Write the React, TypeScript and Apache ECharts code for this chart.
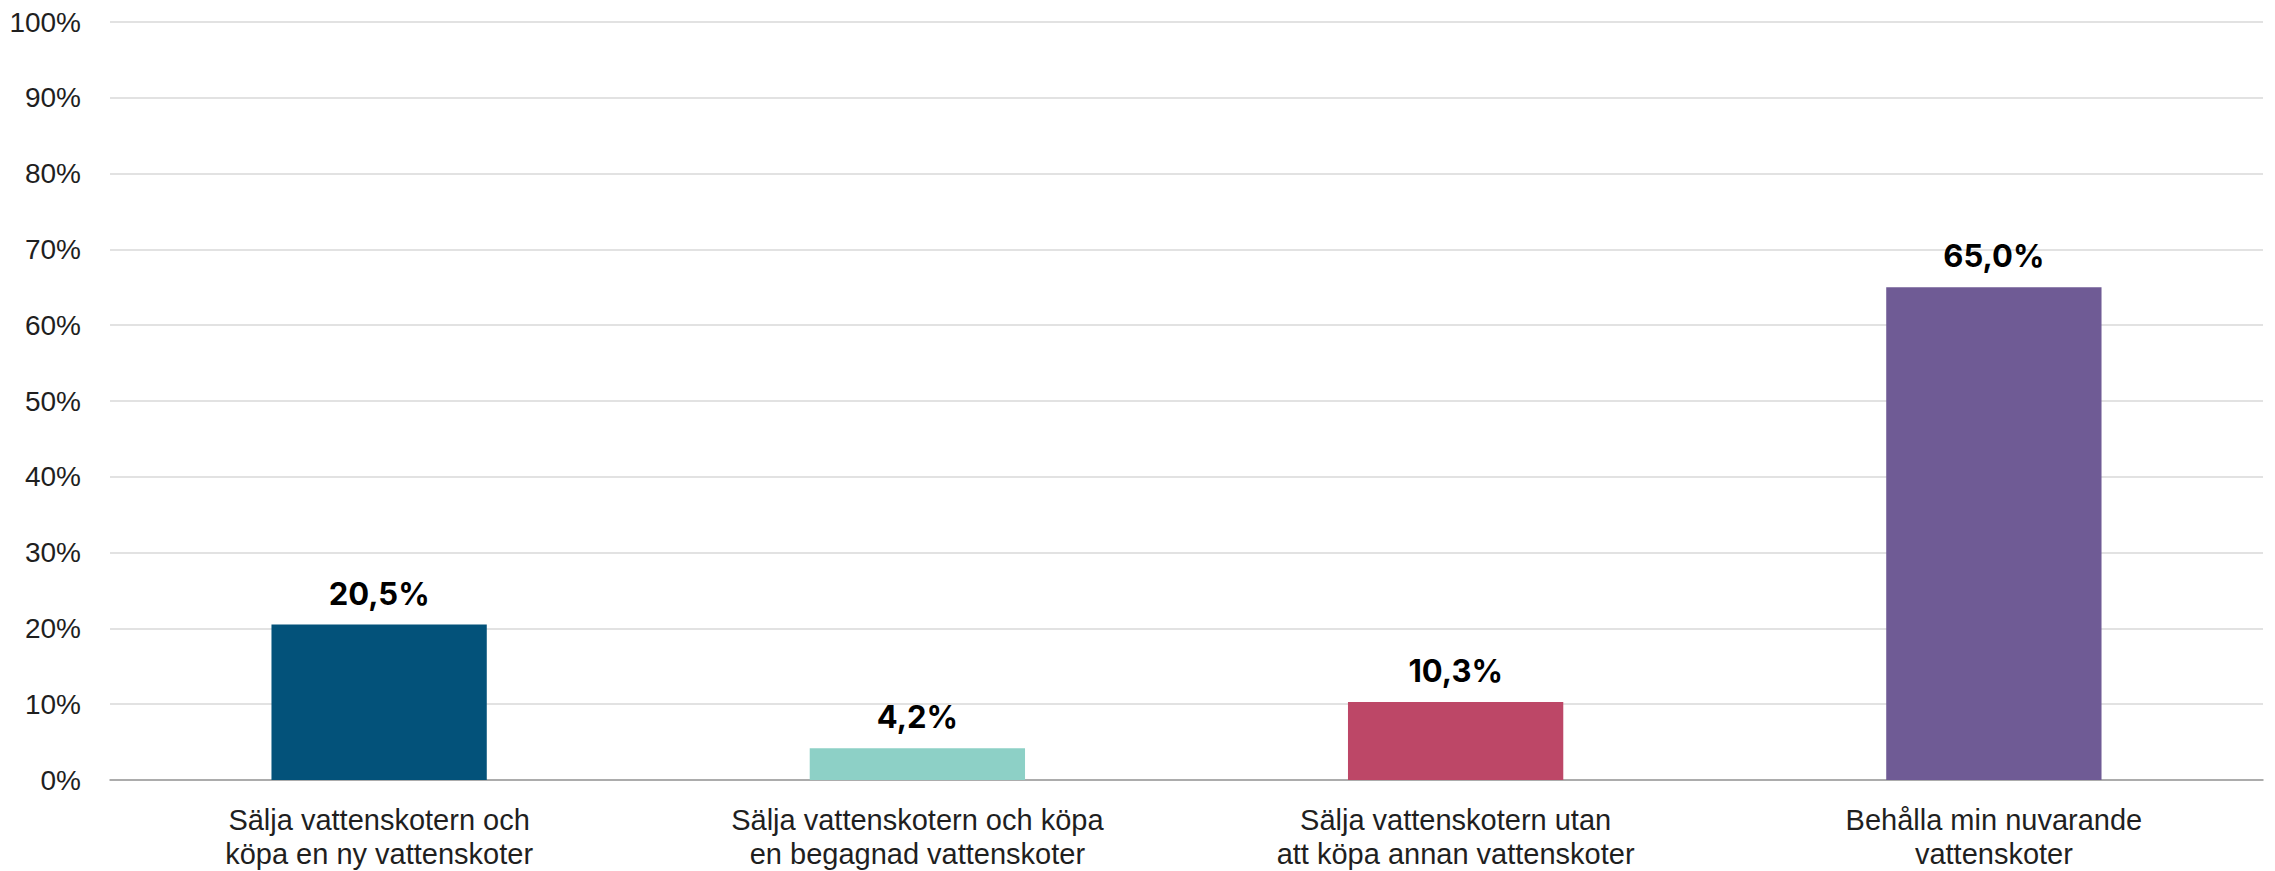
import React, { useEffect, useRef } from "react";
import * as echarts from "echarts";

const categories = [
  "Sälja vattenskotern och\nköpa en ny vattenskoter",
  "Sälja vattenskotern och köpa\nen begagnad vattenskoter",
  "Sälja vattenskotern utan\natt köpa annan vattenskoter",
  "Behålla min nuvarande\nvattenskoter",
];
const values = [20.5, 4.2, 10.3, 65.0];
const barColors = ["#03527A", "#8DD0C6", "#BD4767", "#6F5B95"];

export default function App() {
  const ref = useRef<HTMLDivElement>(null);
  useEffect(() => {
    if (!ref.current) return;
    const chart = echarts.init(ref.current, null, { renderer: "svg" });
    chart.setOption({
      animation: false,
      backgroundColor: "#ffffff",
      grid: { left: 110, right: 12, top: 22, bottom: 85, containLabel: false },
      xAxis: {
        type: "category",
        data: categories,
        axisTick: { show: false },
        axisLine: { lineStyle: { color: "#9a9a9a", width: 1.5 } },
        axisLabel: {
          interval: 0,
          margin: 23,
          fontSize: 29,
          lineHeight: 34,
          color: "#1f1f1f",
          fontFamily: "Liberation Sans, Arial, sans-serif",
        },
      },
      yAxis: {
        type: "value",
        min: 0,
        max: 100,
        interval: 10,
        axisLine: { show: false },
        axisTick: { show: false },
        splitLine: { lineStyle: { color: "#d9d9d9", width: 1.5 } },
        axisLabel: {
          formatter: "{value}%",
          margin: 29,
          fontSize: 28,
          color: "#1f1f1f",
          fontFamily: "Liberation Sans, Arial, sans-serif",
        },
      },
      series: [
        {
          type: "bar",
          barWidth: "40%",
          data: values.map((v, i) => ({ value: v, itemStyle: { color: barColors[i] } })),
          label: {
            show: true,
            position: "top",
            distance: 16,
            fontSize: 31,
            fontWeight: "bold",
            color: "#000000",
            fontFamily: "Inter, Liberation Sans, sans-serif",
            formatter: (p: any) => p.value.toFixed(1).replace(".", ",") + "%",
          },
        },
      ],
    });
    return () => chart.dispose();
  }, []);
  return (
    <div
      ref={ref}
      style={{ position: "fixed", left: 0, top: 0, width: 2275, height: 871 }}
    />
  );
}
